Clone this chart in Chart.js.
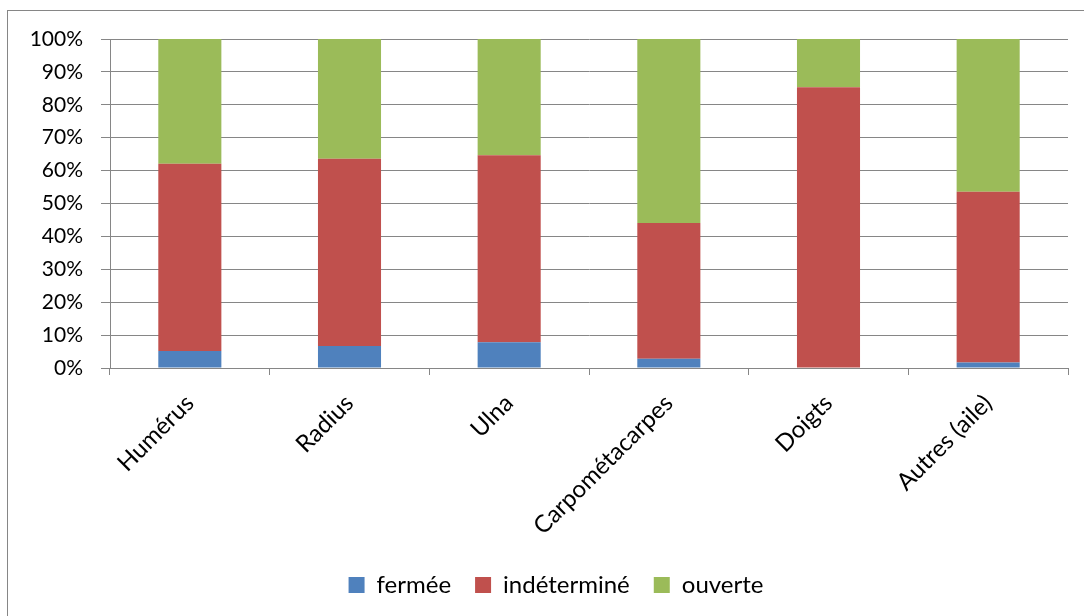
<!DOCTYPE html>
<html>
<head>
<meta charset="utf-8">
<script src="https://cdn.jsdelivr.net/npm/chart.js@4"></script>
<style>
    html, body { margin: 0; padding: 0; background: #fff; }
    #wrap { width: 1084px; height: 616px; }
</style>
</head>
<body>
<div id="wrap"><canvas id="chart" width="1084" height="616"></canvas></div>
<script>
const categories = ["Humérus", "Radius", "Ulna", "Carpométacarpes", "Doigts", "Autres (aile)"];
const fermee = [5.2, 6.7, 7.8, 2.8, 0, 1.7];
const indetermine = [56.9, 56.9, 56.9, 41.3, 85.3, 51.9];
const ouverte = [37.9, 36.4, 35.3, 55.9, 14.7, 46.4];
const yTicks = [0, 10, 20, 30, 40, 50, 60, 70, 80, 90, 100];

const gridColor = "#868686";
const family = "Lato";

// outer frame + white background, legend nudged right like the original
const framePlugin = {
    id: "frame",
    afterLayout(chart) {
        if (chart.legend) {
            chart.legend.left += 22;
            chart.legend.right += 22;
        }
    },
    beforeDraw(chart) {
        const ctx = chart.ctx;
        ctx.save();
        ctx.fillStyle = "#fff";
        ctx.fillRect(0, 0, chart.width, chart.height);
        ctx.strokeStyle = gridColor;
        ctx.lineWidth = 1;
        ctx.strokeRect(7.5, 10.5, chart.width + 10, chart.height + 10);
        ctx.restore();
    },
};

new Chart(document.getElementById("chart").getContext("2d"), {
    type: "bar",
    data: {
        labels: categories,
        datasets: [
            { label: "fermée", data: fermee, backgroundColor: "#4F81BD" },
            { label: "indéterminé", data: indetermine, backgroundColor: "#C0504D" },
            { label: "ouverte", data: ouverte, backgroundColor: "#9BBB59" },
        ],
    },
    options: {
        responsive: false,
        animation: false,
        layout: { padding: { left: 0, top: 39, right: 16, bottom: 9 } },
        datasets: {
            bar: { barPercentage: 1, categoryPercentage: 0.395 },
        },
        plugins: {
            tooltip: { enabled: false },
            legend: {
                position: "bottom",
                labels: {
                    color: "#000",
                    font: { family: family, size: 24 },
                    boxWidth: 16,
                    boxHeight: 16,
                    padding: 24,
                },
            },
        },
        scales: {
            x: {
                stacked: true,
                afterFit: (s) => { s.height = 181; },
                border: { display: true, color: gridColor },
                grid: {
                    drawOnChartArea: false,
                    drawTicks: true,
                    tickLength: 7,
                    color: gridColor,
                },
                ticks: {
                    color: "#000",
                    font: { family: family, size: 24 },
                    minRotation: 45,
                    maxRotation: 45,
                    padding: 14,
                },
            },
            y: {
                stacked: true,
                min: 0,
                max: 100,
                afterFit: (s) => { s.width = 110; },
                afterBuildTicks: (s) => { s.ticks = yTicks.map((v) => ({ value: v })); },
                border: { display: true, color: gridColor },
                grid: {
                    color: gridColor,
                    tickLength: 9,
                },
                ticks: {
                    color: "#000",
                    font: { family: family, size: 21 },
                    padding: 18,
                    callback: (v) => v + "%",
                },
            },
        },
    },
    plugins: [framePlugin],
});
</script>
</body>
</html>
